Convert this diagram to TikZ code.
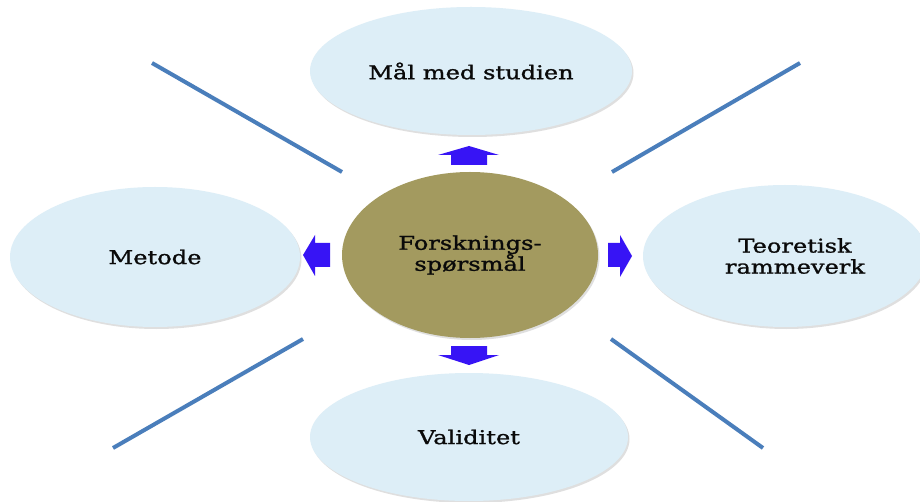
\documentclass[tikz,border=0pt]{standalone}
\usepackage{fontspec}
\setmainfont[FakeStretch=1.27,FakeBold=1.3]{DejaVu Serif}
\usetikzlibrary{shapes.geometric,shadows}
\definecolor{pale}{RGB}{221,238,247}
\definecolor{olive}{RGB}{163,154,95}
\definecolor{linecol}{RGB}{74,126,187}
\definecolor{arrowcol}{RGB}{55,20,245}
\definecolor{txt}{RGB}{10,10,10}
\tikzset{
  topic/.style={ellipse, fill=pale, inner sep=0pt, text=txt, align=center,
    font=\fontsize{19}{21}\selectfont,
    drop shadow={shadow xshift=1.5pt, shadow yshift=-2pt, opacity=0.25, fill=gray}},
  hub/.style={ellipse, fill=olive, inner sep=0pt, text=txt, align=center,
    font=\fontsize{19}{21}\selectfont,
    drop shadow={shadow xshift=1.5pt, shadow yshift=-2pt, opacity=0.25, fill=gray}},
  sepline/.style={draw=linecol, line width=4pt},
  blockarrow/.style={fill=arrowcol}
}
\begin{document}
\begin{tikzpicture}[x=1pt,y=-1pt]
\useasboundingbox (0,0) rectangle (920,502);
\fill[white] (0,0) rectangle (920,502);
% separator lines
\coordinate (tl1) at (152,63);  \coordinate (tl2) at (342,172);
\coordinate (tr1) at (612,172); \coordinate (tr2) at (800,63);
\coordinate (bl1) at (113,448); \coordinate (bl2) at (303,339);
\coordinate (br1) at (611,339); \coordinate (br2) at (763,448);
\draw[sepline] (tl1) -- (tl2);
\draw[sepline] (tr1) -- (tr2);
\draw[sepline] (bl1) -- (bl2);
\draw[sepline] (br1) -- (br2);
% nodes
\node[topic, minimum width=322pt, minimum height=128pt] (mal) at (471,71) {Mål med studien};
\node[topic, minimum width=290pt, minimum height=140pt] (metode) at (155,257) {Metode};
\node[topic, minimum width=284pt, minimum height=142pt] (teori) at (785,256) {\hspace*{20pt}Teoretisk\\\hspace*{20pt}rammeverk};
\node[topic, minimum width=318pt, minimum height=128pt] (valid) at (469,437) {Validitet};
\node[hub, minimum width=256pt, minimum height=166pt] (fsp) at (470,255) {Forsknings-\\spørsmål};
% block arrows
\fill[blockarrow] (451,165) -- (451,155) -- (438,155) -- (469,146) -- (499,155) -- (487,155) -- (487,165) -- cycle;
\fill[blockarrow] (451,346) -- (487,346) -- (487,355) -- (499,355) -- (469,365) -- (438,355) -- (451,355) -- cycle;
\fill[blockarrow] (330,243) -- (315,243) -- (315,235) -- (303,255) -- (315,276) -- (315,267) -- (330,267) -- cycle;
\fill[blockarrow] (608,243) -- (620,243) -- (620,235) -- (632,256) -- (620,277) -- (620,267) -- (608,267) -- cycle;
\end{tikzpicture}
\end{document}
